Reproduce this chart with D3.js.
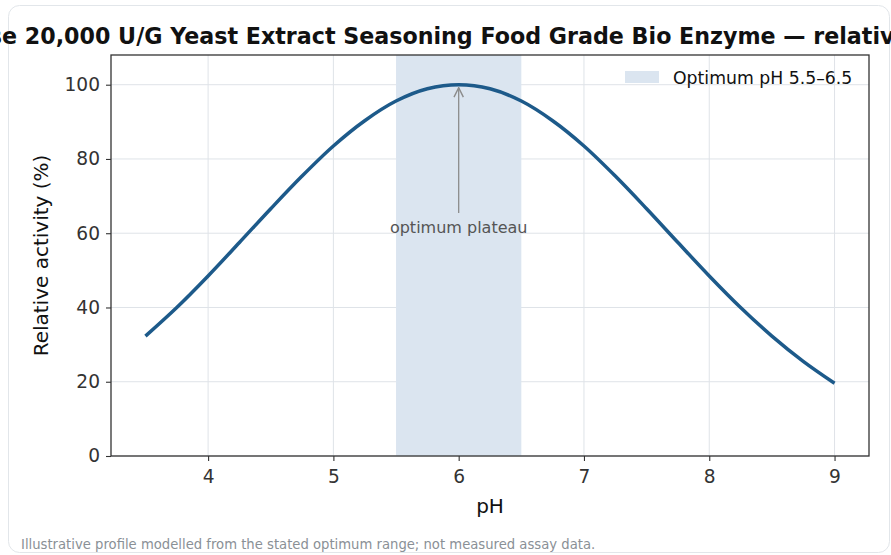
<!DOCTYPE html>
<html>
<head>
<meta charset="utf-8">
<script src="https://cdn.jsdelivr.net/npm/d3@7/dist/d3.min.js"></script>
<style>
  html, body { margin:0; padding:0; background:#fff; }
  svg { display:block; font-family:"DejaVu Sans", sans-serif; }
</style>
</head>
<body>
<svg id="chart" width="891" height="555"></svg>
<script>
// values
var phValues = [3.5,3.75,4,4.25,4.5,4.75,5,5.25,5.5,5.75,6,6.25,6.5,6.75,7,7.25,7.5,7.75,8,8.25,8.5,8.75,9];
var activity = [32.3,40.0,48.5,57.5,66.6,75.4,83.5,90.3,95.6,98.9,100,98.9,95.6,90.3,83.5,75.4,66.6,57.5,48.5,40.0,32.3,25.5,19.6];
var xTicks = [4,5,6,7,8,9];
var yTicks = [0,20,40,60,80,100];
var optimumBand = [5.5, 6.5];
var peak = {ph: 6, value: 100};

var titleText = "Protease 20,000 U/G Yeast Extract Seasoning Food Grade Bio Enzyme \u2014 relative activity vs pH";
var legendText = "Optimum pH 5.5\u20136.5";
var noteText = "Illustrative profile modelled from the stated optimum range; not measured assay data.";

var svg = d3.select("#chart");
var m = {left:111, right:869, top:55, bottom:456};

// card
svg.append("rect")
  .attr("x", 8.5).attr("y", 5.5).attr("width", 881).attr("height", 547)
  .attr("rx", 11).attr("fill", "#fff").attr("stroke", "#e2e6ea").attr("stroke-width", 1);

var x = d3.scaleLinear().domain([3.225, 9.275]).range([m.left, m.right]);
var y = d3.scaleLinear().domain([0, 108]).range([m.bottom, m.top]);

// grid
var grid = svg.append("g");
grid.selectAll(".gx").data(xTicks).enter().append("line")
  .attr("x1", function(d){return x(d);}).attr("x2", function(d){return x(d);})
  .attr("y1", m.top).attr("y2", m.bottom)
  .attr("stroke", "#dfe3e8").attr("stroke-width", 1);
grid.selectAll(".gy").data(yTicks).enter().append("line")
  .attr("x1", m.left).attr("x2", m.right)
  .attr("y1", function(d){return y(d);}).attr("y2", function(d){return y(d);})
  .attr("stroke", "#dfe3e8").attr("stroke-width", 1);

// optimum band
svg.append("rect")
  .attr("x", x(optimumBand[0])).attr("y", m.top)
  .attr("width", x(optimumBand[1]) - x(optimumBand[0]))
  .attr("height", m.bottom - m.top)
  .attr("fill", "#dbe5f0");

// curve
var line = d3.line()
  .x(function(d, i){return x(phValues[i]);})
  .y(function(d){return y(d);})
  .curve(d3.curveCatmullRom);
svg.append("path")
  .datum(activity)
  .attr("d", line)
  .attr("fill", "none")
  .attr("stroke", "#1d5a8a")
  .attr("stroke-width", 3.5);

// annotation
svg.append("defs").append("marker")
  .attr("id", "arr").attr("viewBox", "0 0 10 10").attr("refX", 9).attr("refY", 5)
  .attr("markerWidth", 9).attr("markerHeight", 9).attr("orient", "auto")
  .append("path").attr("d", "M1,1 L9,5 L1,9")
  .attr("fill", "none").attr("stroke", "#8c8c8c").attr("stroke-width", 1.2);
svg.append("line")
  .attr("x1", x(peak.ph)).attr("x2", x(peak.ph))
  .attr("y1", 213).attr("y2", y(peak.value) + 3)
  .attr("stroke", "#8c8c8c").attr("stroke-width", 1.3)
  .attr("marker-end", "url(#arr)");
svg.append("text")
  .attr("x", x(peak.ph)).attr("y", 233)
  .attr("text-anchor", "middle")
  .attr("font-size", 16).attr("fill", "#555")
  .text("optimum plateau");

// axes
var xAxis = svg.append("g").attr("transform", "translate(0," + m.bottom + ")")
  .call(d3.axisBottom(x).tickValues(xTicks).tickSize(5).tickPadding(5).tickFormat(d3.format("d")));
var yAxis = svg.append("g").attr("transform", "translate(" + m.left + ",0)")
  .call(d3.axisLeft(y).tickValues(yTicks).tickSize(5).tickPadding(6).tickFormat(d3.format("d")));
[xAxis, yAxis].forEach(function(a){
  a.select(".domain").remove();
  a.selectAll("line").attr("stroke", "#333").attr("stroke-width", 1.1);
  a.selectAll("text").attr("font-size", 18.6).attr("fill", "#333")
    .attr("font-family", "DejaVu Sans, sans-serif");
});
xAxis.selectAll("text").attr("dy", "0.9em");

// frame
svg.append("rect")
  .attr("x", m.left).attr("y", m.top)
  .attr("width", m.right - m.left).attr("height", m.bottom - m.top)
  .attr("fill", "none").attr("stroke", "#333").attr("stroke-width", 1.3);

// axis labels
svg.append("text")
  .attr("x", (m.left + m.right) / 2).attr("y", 513)
  .attr("text-anchor", "middle").attr("font-size", 20).attr("fill", "#111")
  .text("pH");
svg.append("text")
  .attr("transform", "translate(48," + ((m.top + m.bottom) / 2) + ") rotate(-90)")
  .attr("text-anchor", "middle").attr("font-size", 20).attr("fill", "#111")
  .text("Relative activity (%)");

// legend
svg.append("rect")
  .attr("x", 625).attr("y", 71).attr("width", 34).attr("height", 12)
  .attr("fill", "#dbe5f0");
svg.append("text")
  .attr("x", 673).attr("y", 84)
  .attr("font-size", 17.3).attr("fill", "#111")
  .text(legendText);

// title, clipped by the page edges like the original
var title = svg.append("text")
  .attr("y", 44)
  .attr("font-size", 22.2).attr("font-weight", "bold").attr("fill", "#111")
  .text(titleText);
var cut = titleText.indexOf("e 20,000");
var pre = title.node().getSubStringLength(0, cut);
title.attr("x", 2 - pre);

// footnote
svg.append("text")
  .attr("x", 21).attr("y", 549)
  .attr("font-size", 13.2).attr("fill", "#8a9096")
  .text(noteText);
</script>
</body>
</html>
